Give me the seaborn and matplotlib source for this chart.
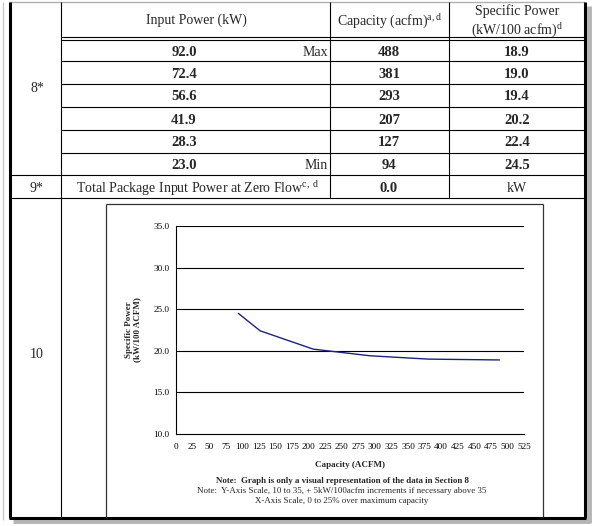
import numpy as np
import pandas as pd
import matplotlib.pyplot as plt
import seaborn as sns

# Section 8 data (rows from max to min)
input_power = [92.0, 72.4, 56.6, 41.9, 28.3, 23.0]
capacity = [488, 381, 293, 207, 127, 94]
specific_power = [18.9, 19.0, 19.4, 20.2, 22.4, 24.5]
row_tags = ["Max", "", "", "", "", "Min"]
zero_flow_power = 0.0

x_ticks = list(range(0, 526, 25))
y_ticks = [10.0, 15.0, 20.0, 25.0, 30.0, 35.0]

sns.set_style("white")
plt.rcParams["font.family"] = ["Liberation Serif", "DejaVu Serif"]
plt.rcParams["mathtext.fontset"] = "custom"
plt.rcParams["mathtext.rm"] = "Liberation Serif"
plt.rcParams["mathtext.it"] = "Liberation Serif:italic"

W, H = 600, 526
fig = plt.figure(figsize=(W / 100, H / 100), dpi=100)
fig.patch.set_facecolor("white")

# background axes in pixel coordinates for the table
bg = fig.add_axes([0, 0, 1, 1])
bg.set_xlim(0, W)
bg.set_ylim(H, 0)
bg.axis("off")

def hline(y, x0, x1, lw=0.8, color="black"):
    bg.plot([x0, x1], [y, y], color=color, lw=lw, solid_capstyle="butt")

def vline(x, y0, y1, lw=0.8, color="black"):
    bg.plot([x, x], [y0, y1], color=color, lw=lw, solid_capstyle="butt")

# shadow + outer frame
vline(589, 6, 523, lw=3.5, color="#b5b5b5")
hline(521, 13, 590, lw=3.5, color="#b5b5b5")
vline(3, 2, 520, lw=1.0, color="#c8c8c8")
hline(2, 9, 585, lw=1.0, color="#b0b0b0")
vline(9.5, 2, 518, lw=2.2)
vline(585, 2, 518, lw=2.2)
hline(517.5, 8.5, 586, lw=2.2)

# inner grid
vline(61, 2, 517)
vline(330, 2, 198)
vline(449, 2, 198)
hline(37, 61, 585)
hline(40, 61, 585)
row_lines = [61, 84, 107, 130, 153]
for y in row_lines:
    hline(y, 61, 585)
hline(175, 9.5, 585)
hline(198, 9.5, 585)

# chart frame
vline(106, 204, 517, lw=0.9, color="#333333")
vline(543, 204, 517, lw=0.9, color="#333333")
hline(204, 106, 543, lw=0.9, color="#333333")

# header text
bg.text(196, 20, "Input Power (kW)", ha="center", va="center", fontsize=10)
bg.text(389, 22, r"Capacity (acfm)$^{\mathrm{a,d}}$", ha="center", va="center", fontsize=10)
bg.text(517, 11, "Specific Power", ha="center", va="center", fontsize=10)
bg.text(517, 31, r"(kW/100 acfm)$^{\mathrm{d}}$", ha="center", va="center", fontsize=10)

# data rows
row_top = 40
for i in range(len(input_power)):
    y0 = row_top if i == 0 else row_lines[i - 1]
    y1 = row_lines[i] if i < len(row_lines) else 175
    yc = (y0 + y1) / 2 + 1.5
    bg.text(184, yc, f"{input_power[i]:.1f}", ha="center", va="center", fontsize=10.5, fontweight="bold")
    if row_tags[i]:
        bg.text(328, yc, row_tags[i], ha="right", va="center", fontsize=10)
    bg.text(389, yc, f"{capacity[i]}", ha="center", va="center", fontsize=10.5, fontweight="bold")
    bg.text(517, yc, f"{specific_power[i]:.1f}", ha="center", va="center", fontsize=10.5, fontweight="bold")

bg.text(37, 89, "8*", ha="center", va="center", fontsize=10)
bg.text(37, 189, "9*", ha="center", va="center", fontsize=10)
bg.text(198, 189, r"Total Package Input Power at Zero Flow$^{\mathrm{c,\ d}}$",
        ha="center", va="center", fontsize=10)
bg.text(389, 189, f"{zero_flow_power:.1f}", ha="center", va="center", fontsize=10.5, fontweight="bold")
bg.text(517, 189, "kW", ha="center", va="center", fontsize=10)
bg.text(37, 355, "10", ha="center", va="center", fontsize=10)

# chart
x0, x1, ytop, ybot = 176, 524, 226, 434
ax = fig.add_axes([x0 / W, 1 - ybot / H, (x1 - x0) / W, (ybot - ytop) / H])
df = pd.DataFrame({"Capacity": capacity, "Specific": specific_power})
sns.lineplot(data=df, x="Capacity", y="Specific", ax=ax, color="#1c2378", lw=1.0, sort=True)
ax.set_xlim(0, 525)
ax.set_ylim(10, 35)
ax.set_xticks(x_ticks)
ax.set_yticks(y_ticks)
ax.set_yticklabels([f"{v:.1f}" for v in y_ticks])
ax.tick_params(axis="both", labelsize=6.6, length=2.5, width=0.7, direction="out",
               colors="black", pad=2)
ax.tick_params(axis="x", pad=4)
for s in ["top", "right"]:
    ax.spines[s].set_visible(False)
for s in ["left", "bottom"]:
    ax.spines[s].set_color("black")
    ax.spines[s].set_linewidth(0.8)
for v in y_ticks[1:]:
    ax.axhline(v, color="black", lw=0.8, zorder=0)
ax.set_facecolor("white")
ax.set_xlabel("Capacity (ACFM)", fontsize=6.5, fontweight="bold", labelpad=7)
ax.set_ylabel("Specific Power\n(kW/100 ACFM)", fontsize=6.5, fontweight="bold", labelpad=9,
              linespacing=1.1)

bg.text(342, 481, "Note:  Graph is only a visual representation of the data in Section 8",
        ha="center", va="center", fontsize=6.4, fontweight="bold")
bg.text(342, 491, "Note:  Y-Axis Scale, 10 to 35, + 5kW/100acfm increments if necessary above 35",
        ha="center", va="center", fontsize=6.4)
bg.text(342, 501, "X-Axis Scale, 0 to 25% over maximum capacity",
        ha="center", va="center", fontsize=6.4)

fig.savefig("out.png", dpi=100, facecolor="white")
